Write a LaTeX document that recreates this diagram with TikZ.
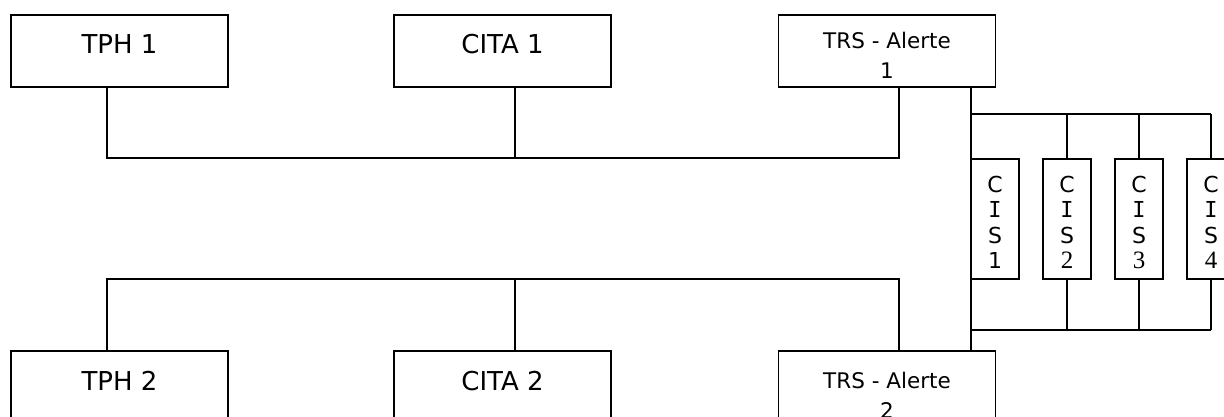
\documentclass[tikz,border=0pt]{standalone}
\usepackage{fontspec}
\setmainfont{DejaVu Sans}
\newfontfamily\monof{DejaVu Sans Mono}
\newfontfamily\serf{Liberation Serif}
\begin{document}
\begin{tikzpicture}[x=1pt,y=-1pt,line width=1.4pt,
  box/.style={draw,line width=1.4pt,minimum width=217pt,minimum height=72pt,inner sep=0pt,outer sep=0pt},
  cisbox/.style={draw,line width=1.4pt,minimum width=48pt,minimum height=120pt,inner sep=0pt,outer sep=0pt},
  bigt/.style={font=\fontsize{26}{30}\selectfont,anchor=base,inner sep=0pt},
  midt/.style={font=\fontsize{21.5}{26}\selectfont,anchor=base,inner sep=0pt},
  cist/.style={font=\fontsize{22}{26}\selectfont,anchor=base,inner sep=0pt},
  wire/.style={line width=1.4pt}]
\useasboundingbox (0,0) rectangle (1224,416);
\clip (0,0) rectangle (1224,416);
% boxes
\node[box] (tph1) at (119.5,51) {};
\node[box] (cita1) at (502.5,51) {};
\node[box] (trs1) at (887,51) {};
\node[box] (tph2) at (119.5,387) {};
\node[box] (cita2) at (502.5,387) {};
\node[box] (trs2) at (887,387) {};
\node[cisbox] (cis1) at (995,219) {};
\node[cisbox] (cis2) at (1067,219) {};
\node[cisbox] (cis3) at (1139,219) {};
\node[cisbox] (cis4) at (1211,219) {};
% texts
\node[bigt] (tph1t) at (119.5,53) {TPH 1};
\node[bigt] (cita1t) at (502.5,53) {CITA 1};
\node[midt] (trs1ta) at (887,48) {TRS - Alerte};
\node[midt] (trs1tb) at (887,78) {1};
\node[bigt] (tph2t) at (119.5,390) {TPH 2};
\node[bigt] (cita2t) at (502.5,390) {CITA 2};
\node[midt] (trs2ta) at (887,388) {TRS - Alerte};
\node[midt] (trs2tb) at (887,418) {2};
\foreach \n/\x/\d in {1/995/{1},2/1067/{\serf\fontsize{25}{26}\selectfont 2},3/1139/{\serf\fontsize{25}{26}\selectfont 3},4/1211/{\serf\fontsize{25}{26}\selectfont 4}}{
  \node[cist] (cisC\n) at (\x,192) {C};
  \node[cist] (cisI\n) at (\x,217) {\monof I};
  \node[cist] (cisS\n) at (\x,243) {S};
  \node[cist] (cisD\n) at (\x,268) {\d};
}
% bus coordinates
\coordinate (u1) at (107,158);
\coordinate (u2) at (515,158);
\coordinate (u3) at (899,158);
\coordinate (l1) at (107,279);
\coordinate (l2) at (515,279);
\coordinate (l3) at (899,279);
\coordinate (t1) at (971,114);
\coordinate (t2) at (971,330);
% upper bus
\draw[wire] (tph1.south -| u1) -- (u1) -- (u3) -- (trs1.south -| u3);
\draw[wire] (cita1.south -| u2) -- (u2);
% lower bus
\draw[wire] (tph2.north -| l1) -- (l1) -- (l3) -- (trs2.north -| l3);
\draw[wire] (cita2.north -| l2) -- (l2);
% trunk between TRS
\draw[wire] (trs1.south -| t1) -- (trs2.north -| t1);
% CIS buses
\draw[wire] (t1) -- (cis4.north |- t1);
\draw[wire] (cis2.north) -- (cis2.north |- t1);
\draw[wire] (cis3.north) -- (cis3.north |- t1);
\draw[wire] (cis4.north) -- (cis4.north |- t1);
\draw[wire] (t2) -- (cis4.south |- t2);
\draw[wire] (cis2.south) -- (cis2.south |- t2);
\draw[wire] (cis3.south) -- (cis3.south |- t2);
\draw[wire] (cis4.south) -- (cis4.south |- t2);
\end{tikzpicture}
\end{document}
